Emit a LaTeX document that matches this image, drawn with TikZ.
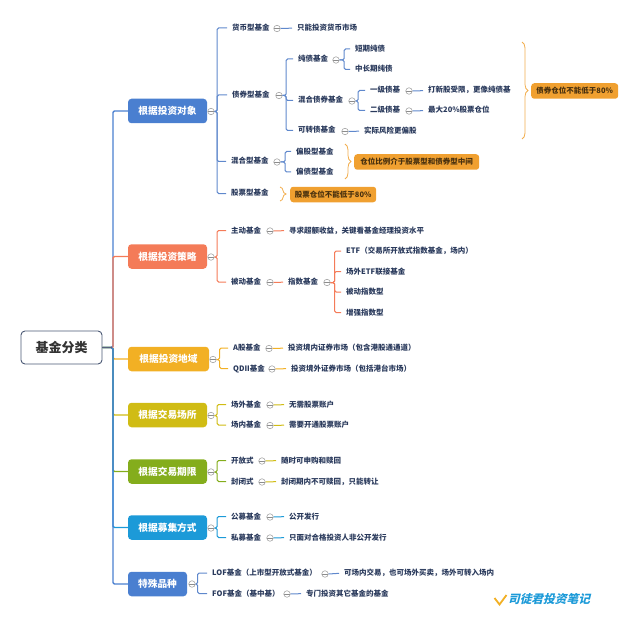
\documentclass[tikz,border=0pt]{standalone}
\usepackage{fontspec}
\setmainfont{Noto Sans CJK SC}
\usetikzlibrary{decorations.pathreplacing}
\definecolor{ink}{HTML}{2A3A5C}
\definecolor{cblue}{HTML}{4A7FD0}
\definecolor{csalmon}{HTML}{F47B58}
\definecolor{cgold}{HTML}{F2B024}
\definecolor{cyell}{HTML}{D0BC14}
\definecolor{cgreen}{HTML}{84AD1C}
\definecolor{ccyan}{HTML}{1C9AD8}
\definecolor{cnote}{HTML}{F0A030}
\definecolor{cline}{HTML}{5F88CC}
\tikzset{
  leaf/.style={anchor=west,inner sep=0pt,text height=6pt,text depth=1pt,font=\fontsize{7.5}{8}\selectfont\bfseries,text=ink},
  lone/.style={draw=#1,line width=1pt,rounded corners=1.5pt,shorten >=5pt},
  lone/.default=cline,
  mini/.style={circle,draw=black!35,fill=white,line width=.6pt,minimum size=6.5pt,inner sep=0pt,
    path picture={\draw[black!45,line width=.5pt] (path picture bounding box.west) -- (path picture bounding box.east);}},
  big/.style={rounded corners=3.5pt,minimum height=24.5pt,minimum width=#1,inner sep=0pt,text=white,
    font=\fontsize{9.7}{10}\selectfont\bfseries},
  rootbox/.style={draw=ink!85,line width=.9pt,rounded corners=4pt,minimum width=81pt,minimum height=33pt,inner sep=0pt,
    text=black!80,font=\fontsize{13}{14}\selectfont\bfseries},
  notebox/.style={fill=cnote,rounded corners=3pt,minimum height=15.5pt,inner sep=0pt,anchor=west,
    text=black!70!cnote,font=\fontsize{7.5}{8}\selectfont\bfseries},
  curly/.style={draw=cnote!85,line width=.8pt,decorate,decoration={brace,amplitude=#1}},
  trunk/.style={draw=#1,line width=1.4pt,rounded corners=1.5pt},
}
\newcommand{\kid}[4]{\draw[lone=#1] (#2.east) -- ++(#3,0) |- (#4.west);}
\newcommand{\one}[3]{\draw[lone=#1] (#2.east) -- (#3.west);}
\begin{document}
\begin{tikzpicture}[x=1pt,y=-1pt]
\useasboundingbox (0,0) rectangle (640,623);
% root and first level
\node[rootbox] (root) at (61.5,347.5) {基金分类};
\node[big=79pt,fill=cblue] (a) at (167.5,111) {根据投资对象};
\node[big=79pt,fill=csalmon] (b) at (167.5,256.5) {根据投资策略};
\node[big=81pt,fill=cgold] (c) at (168.5,359) {根据投资地域};
\node[big=79pt,fill=cyell] (d) at (167.5,415) {根据交易场所};
\node[big=79pt,fill=cgreen] (e) at (167.5,471.5) {根据交易期限};
\node[big=79pt,fill=ccyan] (f) at (167.5,527.5) {根据募集方式};
\node[big=59pt,fill=cblue] (g) at (157.5,584) {特殊品种};
\draw[trunk=cgold] (root.east) -- ++(10.5,0) |- (c.west);
\draw[trunk=cyell] (root.east) -- ++(10.5,0) |- (d.west);
\draw[trunk=cgreen] (root.east) -- ++(10.5,0) |- (e.west);
\draw[trunk=ccyan] (root.east) -- ++(10.5,0) |- (f.west);
\draw[trunk=cblue] (root.east) -- ++(10.5,0) |- (g.west);
\draw[trunk=cblue] (root.east) -- ++(10.5,0) |- (a.west);
\draw[trunk=csalmon] (root.east) ++(10.5,0) |- (b.west);
\draw[line width=1.2pt,draw=ink!80] (root.east) -- ++(10,0);
% circles of the first level
\node[mini] (ac) at (211,111.5) {};
\node[mini] (bc) at (211,257) {};
\node[mini] (cc) at (213,359.5) {};
\node[mini] (dc) at (211,415.5) {};
\node[mini] (ec) at (211,472) {};
\node[mini] (fc) at (211,528) {};
\node[mini] (gc) at (192,584) {};
% group a
\node[leaf] (a1) at (232,28) {货币型基金};
\node[mini] (a1c) at (277,28.5) {};
\node[leaf] (a1t) at (297,28) {只能投资货币市场};
\node[leaf] (a2) at (232,95) {债券型基金};
\node[mini] (a2c) at (279,95.5) {};
\node[leaf] (a3) at (231,161.5) {混合型基金};
\node[mini] (a3c) at (277,162) {};
\node[leaf] (a4) at (231,193.5) {股票型基金};
\node[leaf] (a21) at (298,59) {纯债基金};
\node[mini] (a21c) at (336,60) {};
\node[leaf] (a22) at (298,100.5) {混合债券基金};
\node[mini] (a22c) at (352,101) {};
\node[leaf] (a23) at (298,130.5) {可转债基金};
\node[mini] (a23c) at (345,131.5) {};
\node[leaf] (a23t) at (364,131) {实际风险更偏股};
\node[leaf] (a211) at (355,49) {短期纯债};
\node[leaf] (a212) at (355,69.5) {中长期纯债};
\node[leaf] (a221) at (370,90.5) {一级债基};
\node[mini] (a221c) at (409,91) {};
\node[leaf] (a221t) at (428,90.5) {打新股受限，更像纯债基};
\node[leaf] (a222) at (370,110.5) {二级债基};
\node[mini] (a222c) at (409,111) {};
\node[leaf] (a222t) at (428,110.5) {最大20\%股票仓位};
\node[leaf] (a31) at (296,151.5) {偏股型基金};
\node[leaf] (a32) at (296,172) {偏债型基金};
\foreach \k in {a1,a2,a3,a4} {\kid{cline}{ac}{2.5}{\k}}
\one{cline}{a1c}{a1t}
\foreach \k in {a21,a22,a23} {\kid{cline}{a2c}{3.5}{\k}}
\foreach \k in {a211,a212} {\kid{cline}{a21c}{4.5}{\k}}
\foreach \k in {a221,a222} {\kid{cline}{a22c}{2.5}{\k}}
\one{cline}{a221c}{a221t}
\one{cline}{a222c}{a222t}
\one{cline}{a23c}{a23t}
\foreach \k in {a31,a32} {\kid{cline}{a3c}{4.5}{\k}}
% notes and braces
\node[notebox,minimum width=87pt] (n1) at (531,91) {债券仓位不能低于80\%};
\node[notebox,minimum width=125pt] (n2) at (354,162) {仓位比例介于股票型和债券型中间};
\node[notebox,minimum width=86pt] (n3) at (290,194.5) {股票仓位不能低于80\%};
\coordinate (n1t) at (522,42);
\coordinate (n1b) at (522,139);
\coordinate (n2t) at (345,144);
\coordinate (n2b) at (345,179);
\coordinate (n3t) at (280,187);
\coordinate (n3b) at (280,201);
\draw[curly=6pt] (n1t) -- (n1b);
\draw[curly=6pt] (n2t) -- (n2b);
\draw[curly=6pt] (n3t) -- (n3b);
% group b
\node[leaf] (b1) at (231,230.5) {主动基金};
\node[mini] (b1c) at (270,231) {};
\node[leaf] (b1t) at (289,230.5) {寻求超额收益，关键看基金经理投资水平};
\node[leaf] (b2) at (231,282) {被动基金};
\node[mini] (b2c) at (270,282.5) {};
\node[leaf] (b2t) at (288,282) {指数基金};
\node[mini] (b2tc) at (327,282.5) {};
\node[leaf] (b21) at (346,251) {ETF（交易所开放式指数基金，场内）};
\node[leaf] (b22) at (346,271.5) {场外ETF联接基金};
\node[leaf] (b23) at (346,292) {被动指数型};
\node[leaf] (b24) at (346,312.5) {增强指数型};
\foreach \k in {b1,b2} {\kid{csalmon}{bc}{2.5}{\k}}
\one{csalmon}{b1c}{b1t}
\one{csalmon}{b2c}{b2t}
\foreach \k in {b21,b22,b23,b24} {\kid{csalmon}{b2tc}{4}{\k}}
% group c
\node[leaf] (c1) at (233,348) {A股基金};
\node[mini] (c1c) at (269,348.5) {};
\node[leaf] (c1t) at (288,348) {投资境内证券市场（包含港股通通道）};
\node[leaf] (c2) at (233,368.5) {QDII基金};
\node[mini] (c2c) at (272,369) {};
\node[leaf] (c2t) at (291,368.5) {投资境外证券市场（包括港台市场）};
\foreach \k in {c1,c2} {\kid{cgold}{cc}{3}{\k}}
\one{cgold}{c1c}{c1t}
\one{cgold}{c2c}{c2t}
% group d
\node[leaf] (d1) at (231,404.5) {场外基金};
\node[mini] (d1c) at (270,405) {};
\node[leaf] (d1t) at (289,404.5) {无需股票账户};
\node[leaf] (d2) at (231,425) {场内基金};
\node[mini] (d2c) at (270,425.5) {};
\node[leaf] (d2t) at (289,425) {需要开通股票账户};
\foreach \k in {d1,d2} {\kid{cyell}{dc}{2.5}{\k}}
\one{cyell}{d1c}{d1t}
\one{cyell}{d2c}{d2t}
% group e
\node[leaf] (e1) at (231,460.5) {开放式};
\node[mini] (e1c) at (262,461) {};
\node[leaf] (e1t) at (281,460.5) {随时可申购和赎回};
\node[leaf] (e2) at (231,481.5) {封闭式};
\node[mini] (e2c) at (262,482) {};
\node[leaf] (e2t) at (281,481.5) {封闭期内不可赎回，只能转让};
\foreach \k in {e1,e2} {\kid{cgreen}{ec}{2.5}{\k}}
\one{cyell}{e1c}{e1t}
\one{cyell}{e2c}{e2t}
% group f
\node[leaf] (f1) at (231,516.5) {公募基金};
\node[mini] (f1c) at (270,517) {};
\node[leaf] (f1t) at (289,516.5) {公开发行};
\node[leaf] (f2) at (231,537.5) {私募基金};
\node[mini] (f2c) at (270,538) {};
\node[leaf] (f2t) at (289,537.5) {只面对合格投资人非公开发行};
\foreach \k in {f1,f2} {\kid{ccyan}{fc}{2.5}{\k}}
\one{ccyan}{f1c}{f1t}
\one{ccyan}{f2c}{f2t}
% group g
\node[leaf] (g1) at (212,573) {LOF基金（上市型开放式基金）};
\node[mini] (g1c) at (325,574) {};
\node[leaf] (g1t) at (344,573) {可场内交易，也可场外买卖，场外可转入场内};
\node[leaf] (g2) at (212,593.5) {FOF基金（基中基）};
\node[mini] (g2c) at (287,594) {};
\node[leaf] (g2t) at (306,593.5) {专门投资其它基金的基金};
\foreach \k in {g1,g2} {\kid{cline}{gc}{2}{\k}}
\one{cline}{g1c}{g1t}
\one{cline}{g2c}{g2t}
% mark
\draw[draw=cgold,line width=1.8pt] (494.5,598) -- (499.5,604.5) -- (506.5,595);
\node[anchor=west,inner sep=0pt,xslant=.25,transform shape,text=ccyan,font=\fontsize{11.7}{12}\selectfont\bfseries] (mark) at (509,599) {司徒君投资笔记};
\end{tikzpicture}
\end{document}
